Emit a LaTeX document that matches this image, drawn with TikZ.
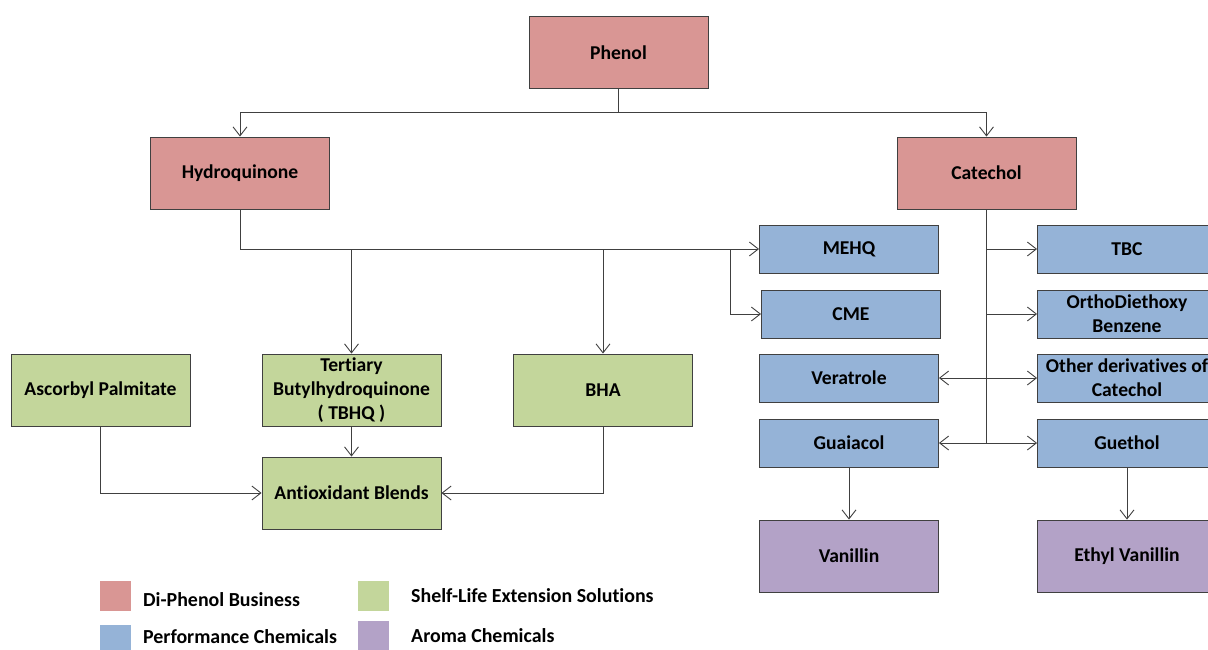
\documentclass[tikz,border=0pt]{standalone}
\usepackage{fontspec}
\setmainfont{Carlito}[Ligatures={NoCommon}]
\usetikzlibrary{arrows.meta,positioning,calc}
\definecolor{dpred}{HTML}{D99694}
\definecolor{pcblue}{HTML}{95B3D7}
\definecolor{slgreen}{HTML}{C3D69B}
\definecolor{acpurple}{HTML}{B3A2C7}
\definecolor{edge}{HTML}{404040}
\tikzset{
  prodbox/.style={
    rectangle, draw=edge, line width=0.9pt,
    minimum width=179pt, minimum height=72pt,
    align=center, font=\fontsize{19.6}{24}\selectfont\bfseries, inner sep=2pt
  },
  dpbox/.style={prodbox, fill=dpred},
  pcbox/.style={prodbox, fill=pcblue, minimum height=48pt},
  slbox/.style={prodbox, fill=slgreen},
  acbox/.style={prodbox, fill=acpurple},
  keybox/.style={rectangle, minimum width=31pt, minimum height=30pt, inner sep=0pt},
  keytext/.style={anchor=west, font=\fontsize{19.9}{24}\selectfont\bfseries, inner sep=0pt},
  prodarrow/.style={-{Straight Barb[length=9pt,width=14pt]}, line width=0.9pt, draw=edge},
  prodline/.style={line width=0.9pt, draw=edge},
}
\begin{document}
\begin{tikzpicture}[x=1pt, y=-1pt]
  \useasboundingbox (0,0) rectangle (1208,649);
  % top of the tree
  \node (phenol) [dpbox] at (618.5,52.5) {Phenol};
  \node (hq) [dpbox] at (240,173) {Hydroquinone};
  \node (cat) [dpbox] at (986.5,173) {Catechol};
  % performance chemicals
  \node (mehq) [pcbox] at (849,249) {MEHQ};
  \node (cme) [pcbox] at (851,314) {CME};
  \node (ver) [pcbox] at (849,378) {Veratrole};
  \node (gua) [pcbox] at (849,443) {Guaiacol};
  \node (tbc) [pcbox] at (1127,249) {TBC};
  \node (odb) [pcbox] at (1127,314) {OrthoDiethoxy\\Benzene};
  \node (oth) [pcbox] at (1127,378) {Other derivatives of\\Catechol};
  \node (gue) [pcbox] at (1127,443) {Guethol};
  % aroma chemicals
  \node (van) [acbox] at (849,556) {Vanillin};
  \node (evan) [acbox] at (1127,556) {Ethyl Vanillin};
  % shelf-life
  \node (asc) [slbox] at (100.5,390) {Ascorbyl Palmitate};
  \node (tbhq) [slbox] at (351.5,390) {Tertiary\\Butylhydroquinone\\( TBHQ )};
  \node (bha) [slbox] at (603,390) {BHA};
  \node (blend) [slbox] at (351.5,493) {Antioxidant Blends};

  % phenol split
  \coordinate (s1) at (618.5,112);
  \draw[prodline] (phenol.south) -- (s1);
  \draw[prodarrow] (s1) -| (hq.north);
  \draw[prodarrow] (s1) -| (cat.north);

  % hydroquinone branch
  \draw[prodarrow] (hq.south) |- (mehq.west);
  \draw[prodarrow] (tbhq.north |- mehq.west) -- (tbhq.north);
  \draw[prodarrow] (bha.north |- mehq.west) -- (bha.north);
  \coordinate (s2) at (730,249);
  \draw[prodarrow] (s2) |- (cme.west);

  % catechol branch
  \draw[prodline] (cat.south) -- (cat.south |- gua.east);
  \draw[prodarrow] (cat.south |- tbc.west) -- (tbc.west);
  \draw[prodarrow] (cat.south |- odb.west) -- (odb.west);
  \draw[prodarrow] (cat.south |- ver.east) -- (ver.east);
  \draw[prodarrow] (cat.south |- oth.west) -- (oth.west);
  \draw[prodarrow] (cat.south |- gua.east) -- (gua.east);
  \draw[prodarrow] (cat.south |- gue.west) -- (gue.west);

  \draw[prodarrow] (gua.south) -- (van.north);
  \draw[prodarrow] (gue.south) -- (evan.north);

  % blends
  \draw[prodarrow] (tbhq.south) -- (blend.north);
  \draw[prodarrow] (asc.south) |- (blend.west);
  \draw[prodarrow] (bha.south) |- (blend.east);

  % legend
  \node (k1) [keybox, fill=dpred] at (115.5,596) {};
  \node (k2) [keybox, fill=pcblue] at (115.5,640) {};
  \node (k3) [keybox, fill=slgreen] at (373.5,596) {};
  \node (k4) [keybox, fill=acpurple] at (373.5,636) {};
  \node (t1) [keytext] at (143,600) {Di-Phenol Business};
  \node (t2) [keytext] at (143,637) {Performance Chemicals};
  \node (t3) [keytext] at (411,596) {Shelf-Life Extension Solutions};
  \node (t4) [keytext] at (411,636) {Aroma Chemicals};
\end{tikzpicture}
\end{document}
